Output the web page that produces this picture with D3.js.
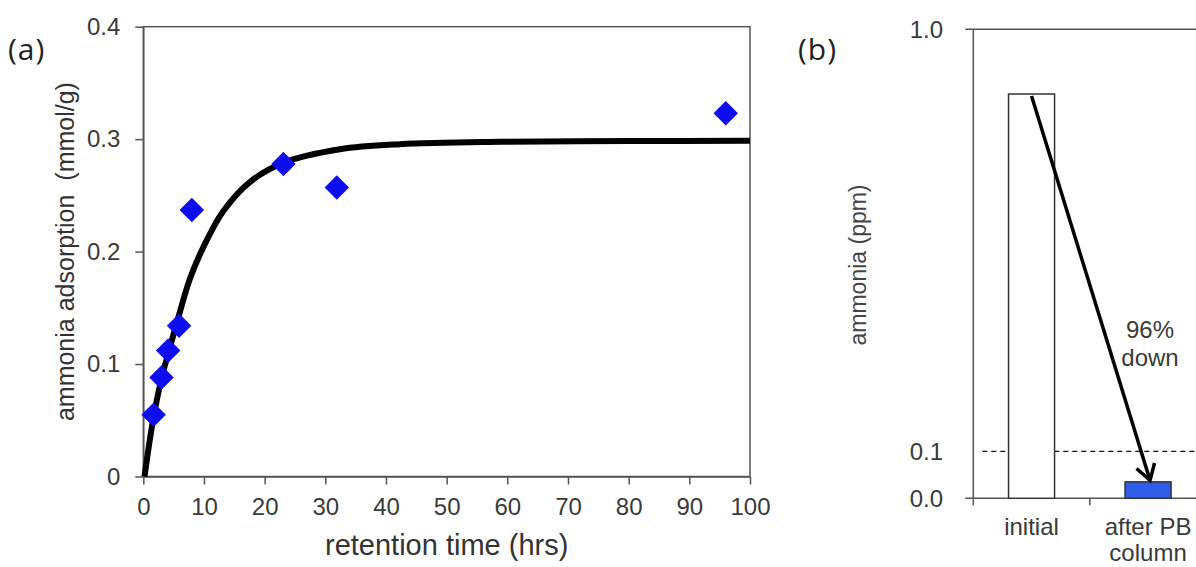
<!DOCTYPE html>
<meta charset="utf-8">
<title>ammonia adsorption and removal</title>
<style>
*{
  margin: 0;
  padding: 0;
}
body{
  background: #fff;
  font-family: "Liberation Sans", Arial, sans-serif;
}
svg{
  display: block;
}
.axis path, .axis line{
  stroke: #555;
  stroke-width: 1.5;
}
.axis text{
  font-family: "Liberation Sans", Arial, sans-serif;
  font-size: 24px;
  fill: #3a3a3a;
}
.panel-tag{
  font-family: "Open Sans", sans-serif;
  font-size: 30px;
  fill: #222;
  letter-spacing: 1px;
}
.title{
  font-size: 25px;
  fill: #333;
}
</style>
<body>
<script src="https://d3js.org/d3.v7.min.js"></script>
<div id="chart"></div>
<script>

// (a) measured points, retention time (hrs) vs adsorption (mmol/g)
var adsTime  = [1.7, 3.0, 4.1, 5.9, 8.0, 23.1, 31.9, 96.0];
var adsValue = [0.055, 0.088, 0.112, 0.134, 0.237, 0.278, 0.257, 0.323];

// (a) fitted curve
var fitTime  = [0.2, 1.6, 3.0, 4.4, 5.8, 7.7, 9.9, 13.2, 17.6, 23.1, 32.4, 42.3, 58.8, 80, 100];
var fitValue = [0, 0.050, 0.087, 0.115, 0.142, 0.176, 0.204, 0.236, 0.262, 0.279, 0.291, 0.2955, 0.2976, 0.2983, 0.2985];

var yTicksA = [0, 0.1, 0.2, 0.3, 0.4];

// (b) ammonia before / after the column (ppm)
var stages = ["initial", "after PB column"];
var stageLines = [["initial"], ["after PB", "column"]];
var ammonia = [0.862, 0.035];
var limit = 0.1;
var yTicksB = [0, 0.1, 1.0];
var note = ["96%", "down"];

var width = 1196, height = 567;

var svg = d3.select("#chart").append("svg")
    .attr("width", width)
    .attr("height", height);

/* panel (a) */
var x = d3.scaleLinear().domain([0, 100]).range([143.3, 750]);
var y = d3.scaleLinear().domain([0, 0.4]).range([476.5, 26.7]);

svg.append("rect")
    .attr("x", x(0)).attr("y", y(0.4))
    .attr("width", x(100) - x(0)).attr("height", y(0) - y(0.4))
    .attr("fill", "none").attr("stroke", "#555").attr("stroke-width", 1.5);

svg.append("g")
    .attr("class", "axis")
    .attr("transform", "translate(0," + y(0) + ")")
    .call(d3.axisBottom(x).ticks(10).tickSize(8).tickPadding(13).tickSizeOuter(0));

svg.append("g")
    .attr("class", "axis")
    .attr("transform", "translate(" + x(0) + ",0)")
    .call(d3.axisLeft(y).tickValues(yTicksA).tickFormat(d3.format("~g")).tickSize(8).tickPadding(15).tickSizeOuter(0));

var fit = fitTime.map(function(t, i){ return [t, fitValue[i]]; });
svg.append("path")
    .datum(fit)
    .attr("fill", "none")
    .attr("stroke", "#000")
    .attr("stroke-width", 6)
    .attr("d", d3.line()
      .x(function(d){ return x(d[0]); })
      .y(function(d){ return y(d[1]); })
      .curve(d3.curveCatmullRom.alpha(0.5)));

svg.selectAll(".pt")
    .data(adsTime)
    .enter().append("path")
    .attr("class", "pt")
    .attr("d", d3.symbol(d3.symbolSquare, 300)())
    .attr("transform", function(d, i){
      return "translate(" + x(d) + "," + y(adsValue[i]) + ") rotate(45)";
    })
    .attr("fill", "#0d0df0");

svg.append("text")
    .attr("class", "title")
    .attr("transform", "translate(67," + (y(0) + y(0.4)) / 2 + ") rotate(-90)")
    .attr("text-anchor", "middle")
    .attr("dominant-baseline", "middle")
    .style("white-space", "pre")
    .text("ammonia adsorption  (mmol/g)");

svg.append("text")
    .attr("class", "title")
    .attr("x", (x(0) + x(100)) / 2)
    .attr("y", 555)
    .attr("text-anchor", "middle")
    .style("font-size", "29px")
    .text("retention time (hrs)");

svg.append("text").attr("class", "panel-tag").attr("x", 8).attr("y", 60).text("(a)");

/* panel (b) */
var xb = d3.scaleBand().domain(stages).range([973.3, 1206.3]);
var yb = d3.scaleLinear().domain([0, 1]).range([498.3, 29.3]);
var barW = xb.bandwidth() * 0.395;

var gB = svg.append("g").attr("class", "axis");

// frame: top and bottom lines run off the right edge
gB.append("line")
    .attr("x1", xb.range()[0] - 8).attr("x2", width)
    .attr("y1", yb(1)).attr("y2", yb(1));
gB.append("line")
    .attr("x1", xb.range()[0] - 8).attr("x2", width)
    .attr("y1", yb(0)).attr("y2", yb(0));
gB.append("line")
    .attr("x1", xb.range()[0]).attr("x2", xb.range()[0])
    .attr("y1", yb(1)).attr("y2", yb(0));

gB.selectAll(".xt")
    .data(stages)
    .enter().append("line")
    .attr("x1", function(d){ return xb(d); })
    .attr("x2", function(d){ return xb(d); })
    .attr("y1", yb(0)).attr("y2", yb(0) + 7);

gB.selectAll(".ylab")
    .data(yTicksB)
    .enter().append("text")
    .attr("x", 943)
    .attr("y", function(d){ return yb(d); })
    .attr("dy", "0.35em")
    .attr("text-anchor", "end")
    .text(function(d){ return d3.format(".1f")(d); });

svg.append("line")
    .attr("x1", xb.range()[0] + 9).attr("x2", width)
    .attr("y1", yb(limit)).attr("y2", yb(limit))
    .attr("stroke", "#111").attr("stroke-width", 1.4)
    .attr("stroke-dasharray", "5,4");

svg.selectAll(".bar")
    .data(stages)
    .enter().append("rect")
    .attr("class", "bar")
    .attr("x", function(d){ return xb(d) + (xb.bandwidth() - barW) / 2; })
    .attr("y", function(d, i){ return yb(ammonia[i]); })
    .attr("width", barW)
    .attr("height", function(d, i){ return yb(0) - yb(ammonia[i]); })
    .attr("fill", function(d, i){ return i == 0 ? "#fff" : "#2f5fea"; })
    .attr("stroke", "#333")
    .attr("stroke-width", 1.5);

var labels = svg.selectAll(".cat")
    .data(stages)
    .enter().append("text")
    .attr("class", "cat")
    .attr("text-anchor", "middle")
    .style("font-size", "24px")
    .style("fill", "#3a3a3a")
    .attr("x", function(d){ return xb(d) + xb.bandwidth() / 2; })
    .attr("y", 535);
labels.each(function(d, i){
  d3.select(this).selectAll("tspan")
    .data(stageLines[i])
    .enter().append("tspan")
    .attr("x", xb(d) + xb.bandwidth() / 2)
    .attr("dy", function(t, j){ return j == 0 ? 0 : 26; })
    .text(function(t){ return t; });
});

// arrow from top of initial bar to top of the after-column bar
var ax1 = xb(stages[0]) + xb.bandwidth() / 2, ay1 = yb(ammonia[0]) + 2;
var ax2 = xb(stages[1]) + xb.bandwidth() / 2 + 2, ay2 = yb(ammonia[1]) - 1.5;
var ang = Math.atan2(ay2 - ay1, ax2 - ax1);
svg.append("line")
    .attr("x1", ax1).attr("y1", ay1)
    .attr("x2", ax2 - 2 * Math.cos(ang)).attr("y2", ay2 - 2 * Math.sin(ang))
    .attr("stroke", "#000").attr("stroke-width", 3.5);
var headLen = 18, spread = 0.55;
svg.append("path")
    .attr("d", "M" + (ax2 - headLen * Math.cos(ang - spread)) + "," + (ay2 - headLen * Math.sin(ang - spread)) +
               "L" + ax2 + "," + ay2 +
               "L" + (ax2 - headLen * Math.cos(ang + spread)) + "," + (ay2 - headLen * Math.sin(ang + spread)))
    .attr("fill", "none").attr("stroke", "#000").attr("stroke-width", 3.5)
    .attr("stroke-linejoin", "miter");

svg.append("text")
    .attr("text-anchor", "middle")
    .style("font-size", "24px")
    .style("fill", "#3a3a3a")
    .selectAll("tspan")
    .data(note)
    .enter().append("tspan")
    .attr("x", 1150)
    .attr("y", function(d, i){ return 338 + i * 28; })
    .text(function(d){ return d; });

svg.append("text")
    .attr("class", "title")
    .attr("transform", "translate(860,265) rotate(-90)")
    .attr("text-anchor", "middle")
    .attr("dominant-baseline", "middle")
    .style("font-size", "23px")
    .style("fill", "#444")
    .text("ammonia (ppm)");

svg.append("text").attr("class", "panel-tag").attr("x", 798).attr("y", 60).text("(b)");

</script>
</body>
</html>
